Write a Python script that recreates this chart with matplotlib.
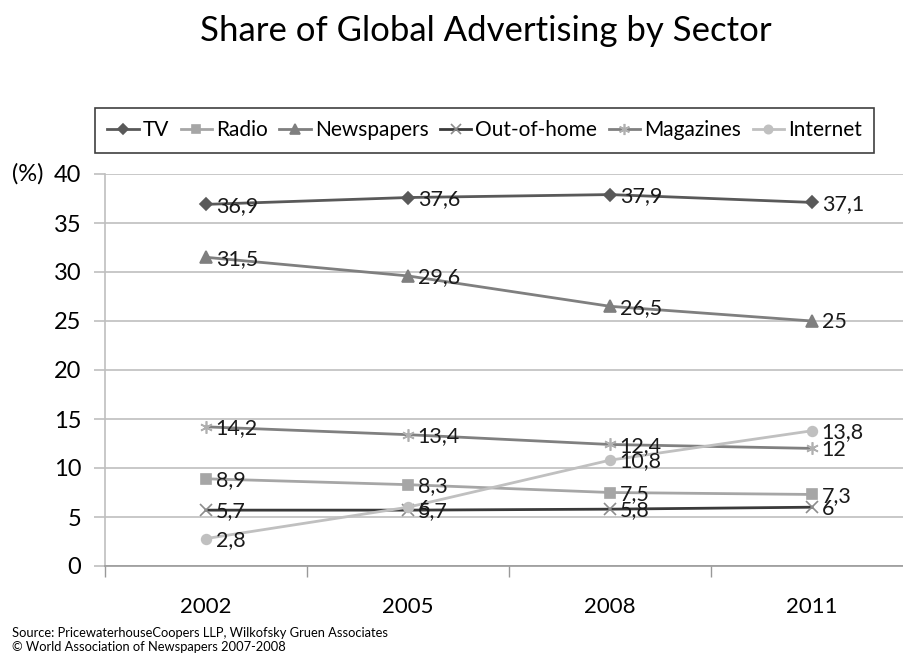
import matplotlib.pyplot as plt
from matplotlib.lines import Line2D

plt.rcParams['font.family'] = ['Lato', 'DejaVu Sans']

years = ['2002', '2005', '2008', '2011']
tv = [36.9, 37.6, 37.9, 37.1]
radio = [8.9, 8.3, 7.5, 7.3]
newspapers = [31.5, 29.6, 26.5, 25]
out_of_home = [5.7, 5.7, 5.8, 6]
magazines = [14.2, 13.4, 12.4, 12]
internet = [2.8, 6, 10.8, 13.8]

series = [
    ('TV', tv, '#595959', '#595959', 'D', 6),
    ('Radio', radio, '#a6a6a6', '#a6a6a6', 's', 7),
    ('Newspapers', newspapers, '#7f7f7f', '#7f7f7f', '^', 8),
    ('Out-of-home', out_of_home, '#3a3a3a', '#8c8c8c', 'x', 8),
    ('Magazines', magazines, '#808080', '#b0b0b0', (6, 2, 0), 9),
    ('Internet', internet, '#c0c0c0', '#c0c0c0', 'o', 7),
]

fig = plt.figure(figsize=(9.04, 6.57), dpi=100)
ax = fig.add_axes([105 / 904, 1 - 566 / 657, (913 - 105) / 904, (566 - 174) / 657])

x = range(len(years))
handles = []
for name, vals, lc, mc, mk, ms in series:
    ax.plot(x, vals, color=lc, lw=2, marker=mk, markersize=ms,
            markerfacecolor=mc, markeredgecolor=mc, markeredgewidth=1.2, zorder=3)
    handles.append(Line2D([], [], color=lc, lw=2, marker=mk, markersize=ms - 1,
                          markerfacecolor=mc, markeredgecolor=mc, markeredgewidth=1.2))
    for xi, v in zip(x, vals):
        lbl = ('%g' % v).replace('.', ',')
        ax.annotate(lbl, (xi, v), xytext=(7, -1), textcoords='offset points',
                    va='center', ha='left', fontsize=15.5, color='#1a1a1a', zorder=4)

ax.set_xlim(-0.5, 3.5)
ax.set_ylim(0, 40)
ax.set_yticks(range(0, 41, 5))
ax.yaxis.grid(True, color='#bfbfbf', lw=1.2)
ax.set_axisbelow(True)

ax.set_xticks([-0.5, 0.5, 1.5, 2.5, 3.5])
ax.set_xticklabels([])
ax.set_xticks(list(x), minor=True)
ax.set_xticklabels(years, minor=True)
ax.tick_params(axis='x', which='major', length=8, color='#999999', width=1)
ax.tick_params(axis='x', which='minor', length=0, pad=22, labelsize=16)
ax.tick_params(axis='y', length=8, color='#bfbfbf', width=1.2, pad=9, labelsize=17)

for s in ['top', 'right']:
    ax.spines[s].set_visible(False)
ax.spines['left'].set_color('#bfbfbf')
ax.spines['bottom'].set_color('#999999')
ax.spines['left'].set_linewidth(1.2)
ax.spines['bottom'].set_linewidth(1.2)

fig.text(12 / 904, 1 - 174 / 657, '(%)', fontsize=17, va='center', ha='left')

fig.text(486 / 904, 1 - 31 / 657, 'Share of Global Advertising by Sector',
         fontsize=25, ha='center', va='center')

leg = fig.legend(handles, [s[0] for s in series], ncol=6, loc='center left',
                 bbox_to_anchor=(95 / 904, 1 - 130 / 657), fontsize=15,
                 handlelength=1.5, handletextpad=0.2, columnspacing=0.55,
                 borderpad=0.6, borderaxespad=0, fancybox=False,
                 edgecolor='#404040', framealpha=1)
leg.get_frame().set_linewidth(1.2)

fig.text(12 / 904, 1 - 633 / 657, 'Source: PricewaterhouseCoopers LLP, Wilkofsky Gruen Associates',
         fontsize=9.3, va='center')
fig.text(12 / 904, 1 - 647 / 657, '\u00a9 World Association of Newspapers 2007-2008',
         fontsize=9.3, va='center')

fig.savefig('out.png', dpi=100)
